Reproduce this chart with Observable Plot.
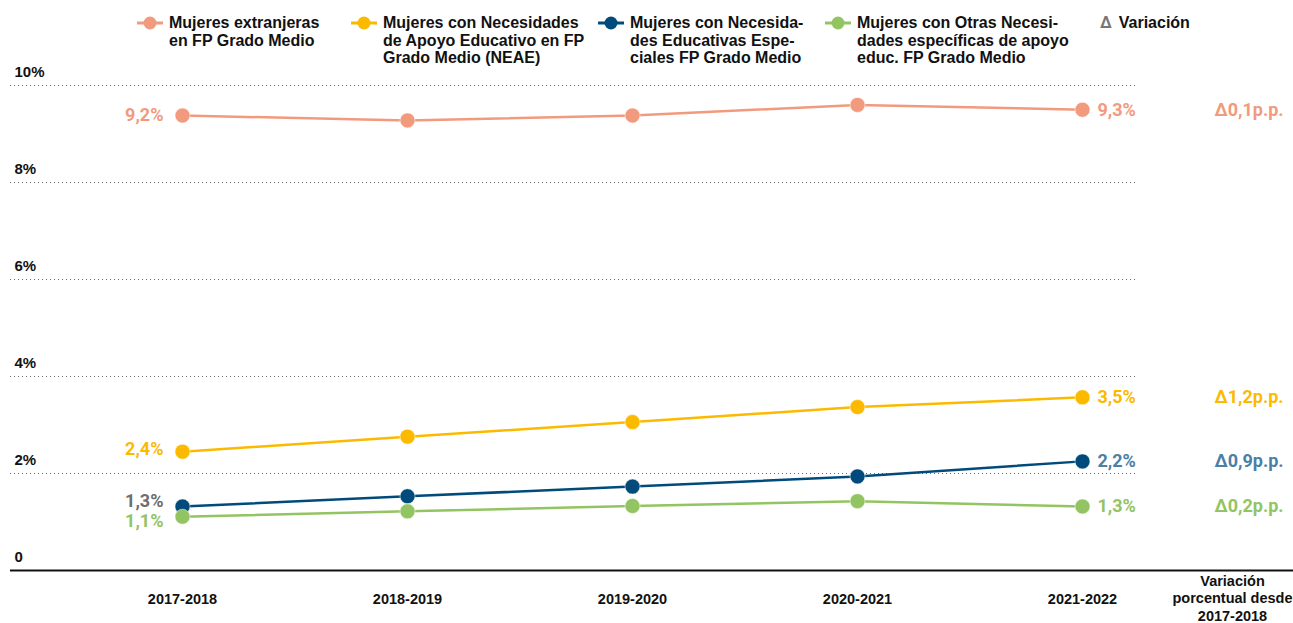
<!DOCTYPE html>
<html>
<head>
<meta charset="utf-8">
<script src="https://cdn.jsdelivr.net/npm/d3@7"></script>
<script src="https://cdn.jsdelivr.net/npm/@observablehq/plot@0.6"></script>
<style>
  html, body { margin: 0; padding: 0; background: #fff; }
  body { width: 1293px; height: 623px; overflow: hidden; font-family: "Liberation Sans", Arial, sans-serif; }
  #legend { position: relative; height: 62px; width: 1293px; }
  .item { position: absolute; top: 14px; display: flex; align-items: flex-start; }
  .item svg { flex: none; margin-top: 2px; }
  .item .lbl { font-weight: bold; font-size: 16px; line-height: 17.5px; color: #111; margin-left: 6px; }
  .delta { font-weight: bold; font-size: 16px; color: #777; font-family: Roboto, sans-serif; line-height: 17.5px; }
</style>
</head>
<body>
<div id="legend"></div>
<div id="chart"></div>
<script>
const years = ["2017-2018", "2018-2019", "2019-2020", "2020-2021", "2021-2022"];
const seriesNames = [
  "Mujeres extranjeras<br>en FP Grado Medio",
  "Mujeres con Necesidades<br>de Apoyo Educativo en FP<br>Grado Medio (NEAE)",
  "Mujeres con Necesida-<br>des Educativas Espe-<br>ciales FP Grado Medio",
  "Mujeres con Otras Necesi-<br>dades específicas de apoyo<br>educ. FP Grado Medio"
];
const extranjeras = [9.38, 9.28, 9.38, 9.6, 9.5];
const neae = [2.45, 2.76, 3.06, 3.37, 3.57];
const nee = [1.32, 1.53, 1.73, 1.94, 2.25];
const otras = [1.11, 1.22, 1.33, 1.43, 1.32];
const startLabels = ["9,2%", "2,4%", "1,3%", "1,1%"];
const endLabels = ["9,3%", "3,5%", "2,2%", "1,3%"];
const variation = ["Δ0,1p.p.", "Δ1,2p.p.", "Δ0,9p.p.", "Δ0,2p.p."];
const yTicks = [0, 2, 4, 6, 8, 10];
const yTickLabels = ["0", "2%", "4%", "6%", "8%", "10%"];
const variationHeader = "Variación\nporcentual desde\n2017-2018";
const variationLegend = "Variación";

// styles
const lineColors = ["#f29a7d", "#fbba00", "#004b7c", "#93c462"];
const startColors = ["#f29a7d", "#fbba00", "#6e6e6e", "#93c462"];
const endColors = ["#f29a7d", "#fbba00", "#4b7fa6", "#93c462"];
const startDy = [0, -2, -5, 5];
const legendX = [137, 351, 598, 825];

const allSeries = [extranjeras, neae, nee, otras];
const data = allSeries.flatMap((vals, s) => vals.map((v, i) => ({s, year: years[i], v})));
const firsts = allSeries.map((vals, s) => ({s, year: years[0], v: vals[0], label: startLabels[s]}));
const lasts = allSeries.map((vals, s) => ({s, year: years[years.length - 1], v: vals[vals.length - 1], label: endLabels[s], delta: variation[s]}));

// legend
const legend = document.getElementById("legend");
seriesNames.forEach((name, s) => {
  const it = document.createElement("div");
  it.className = "item";
  it.style.left = legendX[s] + "px";
  it.innerHTML = `<svg width="26" height="14"><line x1="0" x2="26" y1="7" y2="7" stroke="${lineColors[s]}" stroke-width="3"/><circle cx="13" cy="7" r="6.5" fill="${lineColors[s]}"/></svg><div class="lbl">${name}</div>`;
  legend.appendChild(it);
});
const dl = document.createElement("div");
dl.className = "item";
dl.style.left = "1100px";
dl.innerHTML = `<span class="delta">Δ</span><div class="lbl" style="margin-left:7px">${variationLegend}</div>`;
legend.appendChild(dl);

const W = 1293, H = 561;

const marks = [
  Plot.ruleY(yTicks.filter(d => d > 0), {y: d => d, stroke: "#666", strokeWidth: 1, strokeDasharray: "1,3", insetRight: 156}),
  Plot.text(yTicks, {y: d => d, text: (d, i) => yTickLabels[i], frameAnchor: "left", dx: 4, dy: -13, textAnchor: "start", fontWeight: "bold", fontSize: 15, fill: "#111"}),
  Plot.ruleY([0], {stroke: "#111", strokeWidth: 2}),
  Plot.line(data, {x: "year", y: "v", z: "s", stroke: d => lineColors[d.s], strokeWidth: 2.5}),
  Plot.dot(data, {x: "year", y: "v", r: 7.5, fill: d => lineColors[d.s], stroke: "white", strokeWidth: 0.5}),
  ...firsts.map(d => Plot.text([d], {x: "year", y: "v", text: "label", textAnchor: "end", dx: -19, dy: startDy[d.s], fill: startColors[d.s], fontWeight: "bold", fontSize: 18, fontFamily: "Roboto, sans-serif"})),
  Plot.text(lasts, {x: "year", y: "v", text: "label", textAnchor: "start", dx: 15, fill: d => endColors[d.s], fontWeight: "bold", fontSize: 18, fontFamily: "Roboto, sans-serif"}),
  Plot.text(lasts, {y: "v", text: "delta", frameAnchor: "right", textAnchor: "end", dx: -10, fill: d => endColors[d.s], fontWeight: "bold", fontSize: 18, fontFamily: "Roboto, sans-serif"}),
  Plot.text([variationHeader], {text: d => d, frameAnchor: "bottom-right", dx: -61, dy: 3, textAnchor: "middle", lineAnchor: "top", lineHeight: 1.2, fontWeight: "bold", fontSize: 14.5, fill: "#111"})
];

const chart = Plot.plot({
  width: W,
  height: H,
  marginLeft: 10,
  marginRight: 0,
  marginTop: 23,
  marginBottom: 53,
  style: {fontFamily: "'Liberation Sans', Arial, sans-serif", background: "white", overflow: "visible"},
  x: {type: "point", domain: years, range: [181, 1083], padding: 0, label: null},
  y: {domain: [0, 10], range: [508, 23], label: null},
  marks: [
    ...marks,
    Plot.axisX({tickSize: 0, tickPadding: 23, fontSize: 14.5, fontWeight: "bold", label: null, fill: "#111"}),
    Plot.axisY({ticks: [], label: null})
  ]
});
document.getElementById("chart").appendChild(chart);
</script>
</body>
</html>
